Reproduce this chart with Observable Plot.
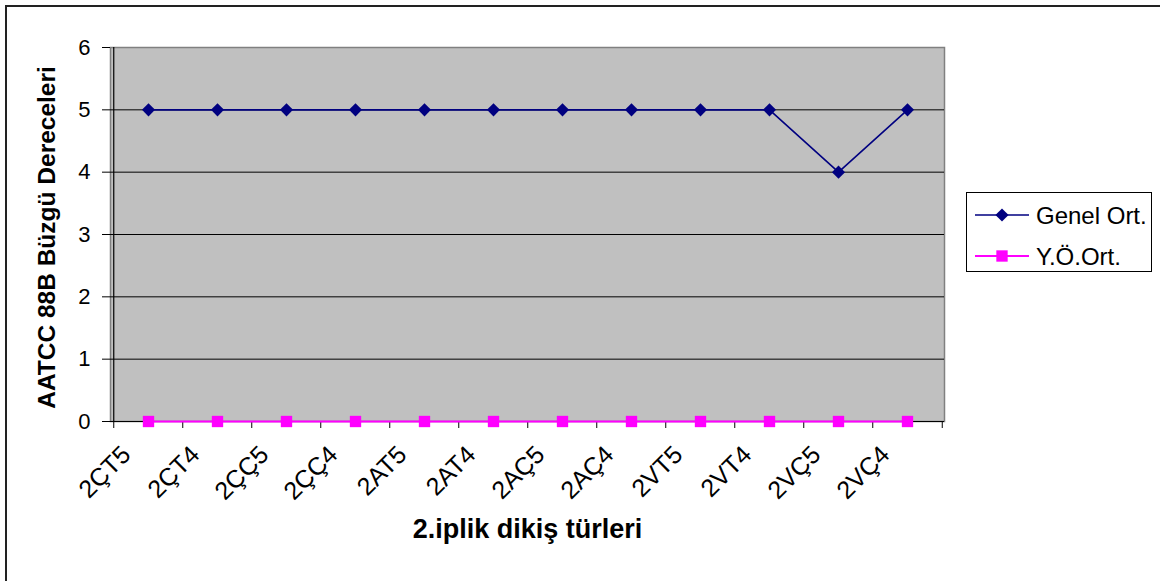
<!DOCTYPE html>
<html>
<head>
<meta charset="utf-8">
<script src="https://cdn.jsdelivr.net/npm/d3@7"></script>
<script src="https://cdn.jsdelivr.net/npm/@observablehq/plot@0.6"></script>
<style>
  html, body { margin: 0; padding: 0; background: #fff; overflow: hidden; }
  #wrap { position: relative; width: 1160px; height: 581px; overflow: hidden; font-family: "Liberation Sans", Arial, sans-serif; }
  #outer { position: absolute; left: 5px; top: 5px; width: 1300px; height: 800px; border-top: 2px solid #222; border-left: 2px solid #222; box-sizing: border-box; pointer-events: none; }
  #chart { position: absolute; left: 0; top: 0; }
  #legend { position: absolute; left: 966px; top: 192px; width: 186px; height: 80px; border: 1px solid #000; background: #fff; box-sizing: border-box; }
</style>
</head>
<body>
<div id="wrap">
  <div id="outer"></div>
  <div id="chart"></div>
  <div id="legend"></div>
</div>
<script>
// Stitch types (second thread) and their AATCC 88B puckering grades
const categories = ["2ÇT5", "2ÇT4", "2ÇÇ5", "2ÇÇ4", "2AT5", "2AT4", "2AÇ5", "2AÇ4", "2VT5", "2VT4", "2VÇ5", "2VÇ4"];
const genelOrt = [5, 5, 5, 5, 5, 5, 5, 5, 5, 5, 4, 5];
const yoOrt = [0, 0, 0, 0, 0, 0, 0, 0, 0, 0, 0, 0];
const yTicks = [0, 1, 2, 3, 4, 5, 6];
const seriesNames = ["Genel Ort.", "Y.Ö.Ort."];
const seriesColors = ["#000080", "#FF00FF"];
const xTitle = "2.iplik dikiş türleri";
const yTitle = "AATCC 88B Büzgü Dereceleri";

const W = 1160, H = 581;
const mL = 110, mR = 216, mT = 47, mB = 160;
const step = (W - mL - mR) / categories.length;
const font = "'Liberation Sans', Arial, sans-serif";

const rows = categories.map((c, i) => ({cat: c, genel: genelOrt[i], yo: yoOrt[i]}));

const chart = Plot.plot({
  width: W,
  height: H,
  marginLeft: mL,
  marginRight: mR,
  marginTop: mT,
  marginBottom: mB,
  style: {fontFamily: font, background: "transparent", color: "#000", overflow: "visible"},
  x: {type: "point", domain: categories, padding: 0.5, axis: null},
  y: {domain: [0, 6]},
  marks: [
    // grey plot area
    Plot.frame({fill: "#C0C0C0", stroke: "#808080", strokeWidth: 1.5}),
    // horizontal gridlines
    Plot.ruleY(yTicks.filter(v => v > 0 && v < 6), {stroke: "#000", strokeWidth: 1}),
    // category axis line
    Plot.ruleY([0], {stroke: "#000", strokeWidth: 1.2}),
    // value axis line along the left edge of the plot area
    Plot.ruleX([categories[0]], {y1: 0, y2: 6, dx: -step / 2, stroke: "#000", strokeWidth: 1.2}),
    // category tick marks between the categories
    Plot.ruleX(categories, {y1: 0, y2: 0, dx: -step / 2, insetBottom: -7, stroke: "#000"}),
    Plot.ruleX([categories[categories.length - 1]], {y1: 0, y2: 0, dx: step / 2, insetBottom: -7, stroke: "#000"}),
    // value axis
    Plot.axisY({ticks: yTicks, tickSize: 8, tickPadding: 12, fontSize: 22, tickFormat: d => d, label: null}),
    // rotated category labels
    Plot.text(categories, {x: d => d, y: 0, text: d => d, rotate: -45, textAnchor: "end", lineAnchor: "middle", dx: -22, dy: 29, fontSize: 25, fill: "#000"}),
    // series
    Plot.line(rows, {x: "cat", y: "yo", stroke: seriesColors[1], strokeWidth: 2}),
    Plot.dot(rows, {x: "cat", y: "yo", symbol: "square", r: 6.4, fill: seriesColors[1], stroke: "none"}),
    Plot.line(rows, {x: "cat", y: "genel", stroke: seriesColors[0], strokeWidth: 1.6}),
    Plot.dot(rows, {x: "cat", y: "genel", symbol: "diamond2", r: 5.9, fill: seriesColors[0], stroke: "none"}),
    // axis titles
    Plot.text([yTitle], {frameAnchor: "left", textAnchor: "middle", dx: -63, dy: 3, rotate: -90, fontSize: 24.5, fontWeight: "bold", fill: "#000"}),
    Plot.text([xTitle], {frameAnchor: "bottom", textAnchor: "middle", dy: 116, fontSize: 27, fontWeight: "bold", fill: "#000"})
  ]
});
document.getElementById("chart").appendChild(chart);

// legend: line with marker, then the series name
const leg = d3.select("#legend").append("svg").attr("width", 184).attr("height", 78);
const symbols = [d3.symbolDiamond2, d3.symbolSquare];
const symbolSizes = [5.9 * 5.9 * Math.PI, 6.4 * 6.4 * Math.PI];
seriesNames.forEach((name, i) => {
  const cy = 22 + i * 41;
  const g = leg.append("g");
  g.append("line").attr("x1", 8).attr("x2", 62).attr("y1", cy).attr("y2", cy)
    .attr("stroke", seriesColors[i]).attr("stroke-width", i === 0 ? 1.6 : 2);
  g.append("path").attr("transform", `translate(35,${cy})`)
    .attr("d", d3.symbol(symbols[i], symbolSizes[i])()).attr("fill", seriesColors[i]);
  g.append("text").attr("x", 69).attr("y", cy).attr("dy", "0.36em")
    .attr("font-family", font).attr("font-size", 24).attr("fill", "#000").text(name);
});
</script>
</body>
</html>
